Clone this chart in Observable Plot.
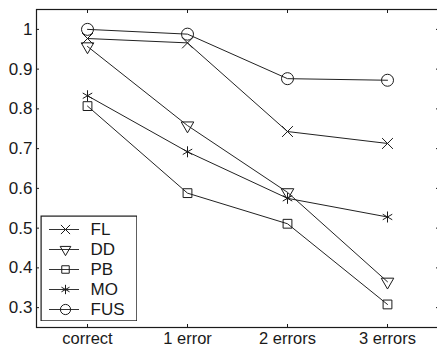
<!DOCTYPE html>
<html><head><meta charset="utf-8">
<script src="https://cdn.jsdelivr.net/npm/d3@7"></script>
<script src="https://cdn.jsdelivr.net/npm/@observablehq/plot@0.6"></script>
<style>
html,body{margin:0;padding:0;background:#fff;}
#wrap{position:relative;width:437px;height:348px;overflow:hidden;background:#fff;}
#legend{position:absolute;left:40px;top:215px;}
</style></head><body><div id="wrap"><div id="chart"></div><div id="legend"></div></div>
<script>
const categories = ["correct", "1 error", "2 errors", "3 errors"];
const seriesNames = ["FL", "DD", "PB", "MO", "FUS"];
const FL  = [0.977, 0.966, 0.743, 0.713];
const DD  = [0.957, 0.758, 0.590, 0.365];
const PB  = [0.807, 0.588, 0.511, 0.308];
const MO  = [0.833, 0.692, 0.575, 0.528];
const FUS = [1.000, 0.988, 0.876, 0.872];
const yTicks = [0.3, 0.4, 0.5, 0.6, 0.7, 0.8, 0.9, 1];
const yTickLabels = ["0.3", "0.4", "0.5", "0.6", "0.7", "0.8", "0.9", "1"];

const seriesValues = [FL, DD, PB, MO, FUS];
const rows = seriesNames.flatMap((s, i) => seriesValues[i].map((v, j) => ({series: s, cat: categories[j], value: v})));

// marker styles (MATLAB-like)
const markerStyle = {
  FL:  {symbol: "times", r: 5, rotate: 0},
  DD:  {symbol: "triangle2", r: 6, rotate: 180},
  PB:  {symbol: "square2", r: 5.6, rotate: 0},
  MO:  {symbol: "asterisk", r: 5.2, rotate: 0},
  FUS: {symbol: "circle", r: 6, rotate: 0}
};
const ink = "#1a1a1a";
const noText = () => "";
const font = "'Liberation Sans', Arial, sans-serif";

const chart = Plot.plot({
  width: 437, height: 348,
  marginLeft: 36, marginRight: -1, marginTop: 9, marginBottom: 21,
  style: {fontFamily: font, fontSize: "17px", color: ink, background: "#fff"},
  x: {type: "point", domain: categories, padding: 0.5, label: null},
  y: {domain: [0.25, 1.05], label: null},
  marks: [
    Plot.axisY(yTicks, {anchor: "left", tickSize: -3, tickFormat: noText, label: null, stroke: ink}),
    Plot.axisY(yTicks, {anchor: "left", tickSize: 0, tickPadding: 4, label: null, tickFormat: d => yTickLabels[yTicks.indexOf(d)]}),
    Plot.axisY(yTicks, {anchor: "right", tickSize: -3, tickFormat: noText, label: null, stroke: ink}),
    Plot.axisX({anchor: "top", tickSize: -3, tickFormat: noText, label: null, stroke: ink}),
    Plot.axisX({anchor: "bottom", tickSize: -3, tickFormat: noText, label: null, stroke: ink}),
    Plot.axisX({anchor: "bottom", tickSize: 0, tickPadding: 5, label: null, fontSize: 16.5}),
    Plot.line(rows, {x: "cat", y: "value", z: "series", stroke: "#222", strokeWidth: 1}),
    ...seriesNames.map(s => Plot.dot(rows.filter(d => d.series === s), {
      x: "cat", y: "value", symbol: markerStyle[s].symbol, r: markerStyle[s].r,
      rotate: markerStyle[s].rotate, stroke: ink, strokeWidth: 1, fill: "none"
    })),
    Plot.frame({stroke: ink, strokeWidth: 1.2})
  ]
});
document.getElementById("chart").append(chart);

const legendRows = seriesNames.map(s => ({series: s}));
const legend = Plot.plot({
  width: 97, height: 106,
  marginLeft: 0, marginRight: 0, marginTop: 0, marginBottom: 0,
  style: {fontFamily: font, fontSize: "17px", color: ink, background: "transparent"},
  x: {type: "identity"},
  y: {type: "point", domain: seriesNames, padding: 0.5, range: [3, 104.5], axis: null},
  marks: [
    Plot.frame({stroke: ink, strokeWidth: 1.2, fill: "#fff", inset: 0.6}),
    Plot.ruleY(legendRows, {y: "series", x1: 9, x2: 39, stroke: "#333", strokeWidth: 1}),
    ...seriesNames.map(s => Plot.dot(legendRows.filter(d => d.series === s), {
      x: 25, y: "series", symbol: markerStyle[s].symbol, r: markerStyle[s].r * 0.85,
      rotate: markerStyle[s].rotate, stroke: ink, strokeWidth: 1, fill: "none"
    })),
    Plot.text(legendRows, {x: 50, y: "series", text: "series", textAnchor: "start", fill: ink})
  ]
});
document.getElementById("legend").append(legend);
</script></body></html>
